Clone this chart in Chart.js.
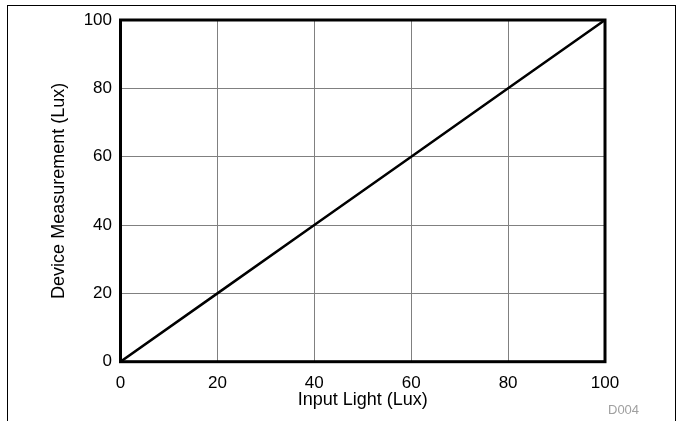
<!DOCTYPE html>
<html>
<head>
<meta charset="utf-8">
<script src="https://cdn.jsdelivr.net/npm/chart.js@4"></script>
<style>
  body { margin: 0; background: #fff; }
  #wrap { position: relative; width: 682px; height: 421px; overflow: hidden; }
  #frame { position: absolute; left: 7px; top: 5px; width: 667px; height: 430px;
           border-top: 1px solid #000; border-left: 1px solid #000; border-right: 1px solid #000; }
  #myChart { position: absolute; left: 0; top: 0; }
  #code { position: absolute; left: 608px; top: 402px; font: 13px "Liberation Sans", Arial, sans-serif; color: #a0a0a0; }
</style>
</head>
<body>
<div id="wrap">
  <div id="frame"></div>
  <canvas id="myChart" width="682" height="421"></canvas>
  <div id="code">D004</div>
</div>
<script>
var inputLight = [0, 20, 40, 60, 80, 100]
var deviceMeasurement = [0, 20, 40, 60, 80, 100]
var xTicks = [0, 20, 40, 60, 80, 100]
var yTicks = [0, 20, 40, 60, 80, 100]

var points = inputLight.map(function (x, i) {
    return { x: x, y: deviceMeasurement[i] }
})

// thick black box round the plot area
var plotBox = {
    id: 'plotBox',
    afterDatasetsDraw: function (chart) {
        var a = chart.chartArea
        var ctx = chart.ctx
        ctx.save()
        ctx.strokeStyle = '#000'
        ctx.lineWidth = 3
        ctx.strokeRect(a.left, a.top, a.right - a.left, a.bottom - a.top)
        ctx.restore()
    }
}

var tickFont = { family: '"Liberation Sans", Arial, sans-serif', size: 17 }
var titleFont = { family: '"Liberation Sans", Arial, sans-serif', size: 18 }

var ctx = document.getElementById("myChart")
var myChart = new Chart(ctx, {
    type: 'scatter',
    data: {
        datasets: [{
            data: points,
            showLine: true,
            borderColor: '#000',
            borderWidth: 2.5,
            pointRadius: 0,
            tension: 0
        }]
    },
    options: {
        responsive: false,
        animation: false,
        layout: { padding: { left: 0, top: 20, right: 77, bottom: 0 } },
        plugins: { legend: { display: false }, tooltip: { enabled: false } },
        scales: {
            x: {
                type: 'linear',
                min: 0,
                max: 100,
                afterBuildTicks: function (s) { s.ticks = xTicks.map(function (v) { return { value: v } }) },
                afterFit: function (s) { s.height = 59.3 },
                grid: { color: '#808080', lineWidth: 1, drawTicks: false },
                border: { display: false },
                ticks: { color: '#000', font: tickFont, padding: 11, maxRotation: 0 },
                title: { display: true, text: 'Input Light (Lux)', color: '#000', font: titleFont, padding: { top: 0, bottom: 10 } }
            },
            y: {
                type: 'linear',
                min: 0,
                max: 100,
                afterBuildTicks: function (s) { s.ticks = yTicks.map(function (v) { return { value: v } }) },
                afterFit: function (s) { s.width = 120.5 },
                grid: { color: '#808080', lineWidth: 1, drawTicks: false },
                border: { display: false },
                ticks: { color: '#000', font: tickFont, padding: 8.5 },
                title: { display: true, text: 'Device Measurement (Lux)', color: '#000', font: titleFont, padding: { top: 48.7, bottom: 0 } }
            }
        }
    },
    plugins: [plotBox]
})
</script>
</body>
</html>
